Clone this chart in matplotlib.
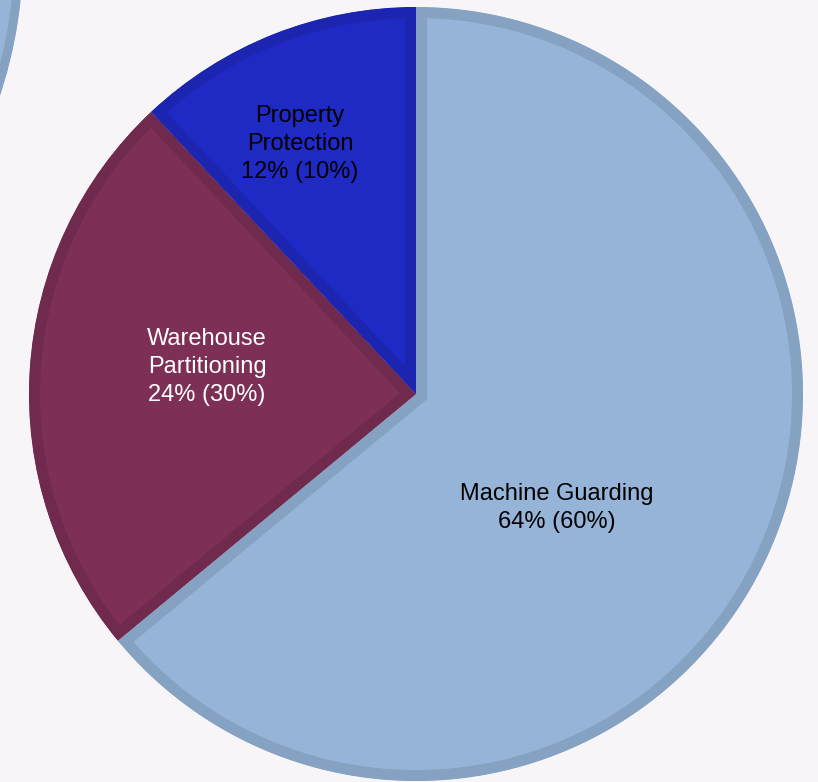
import matplotlib.pyplot as plt
from matplotlib.patches import Circle

# data
categories = ['Machine Guarding', 'Warehouse Partitioning', 'Property Protection']
label_lines = ['Machine Guarding', 'Warehouse\nPartitioning', 'Property\nProtection']
shares = [64, 24, 12]
targets = [60, 30, 10]

fill_colors = ['#95B4D7', '#7E2F56', '#1F2AC4']
edge_colors = ['#86A2C2', '#6F2A4D', '#1B25B0']
text_colors = ['black', 'white', 'black']
# label centres, in pixels from the pie centre (x right, y up)
label_offsets = [(141, -114), (-209, 27), (-116, 250)]

bg = '#F7F5F7'
plt.rcParams['font.family'] = ['Liberation Sans', 'DejaVu Sans']

fig = plt.figure(figsize=(8.18, 7.82), dpi=100, facecolor=bg)
ax = fig.add_axes([0, 0, 1, 1])
ax.set_facecolor(bg)

cx, cy, r = 416, 782 - 394, 387
band = 11  # width of the inner border, px
lw = 2 * band * 72 / 100

wedges, _ = ax.pie(shares, colors=fill_colors, startangle=90, counterclock=False,
                   center=(cx, cy), radius=r, frame=True)
for w, ec in zip(wedges, edge_colors):
    w.set_edgecolor(ec)
    w.set_linewidth(lw)
    w.set_joinstyle('miter')
    # pie turns clipping off; turn it on and keep only the inner half of the stroke
    w.set_clip_on(True)
    w.set_clip_path(w)

for txt, s, t, col, (dx, dy) in zip(label_lines, shares, targets, text_colors, label_offsets):
    ax.text(cx + dx, cy + dy, '%s\n%d%% (%d%%)' % (txt, s, t), ha='center', va='center',
            color=col, fontsize=17, linespacing=1.37)

# edge of a neighbouring chart, showing in the top-left corner
other = Circle((-424, 782 + 46), 447, facecolor='#95B4D7', edgecolor='#86A2C2',
               linewidth=2 * 9 * 72 / 100)
ax.add_patch(other)
other.set_clip_path(other)

ax.set_xlim(0, 818)
ax.set_ylim(0, 782)
ax.axis('off')

fig.savefig('out.png', dpi=100, facecolor=bg)
